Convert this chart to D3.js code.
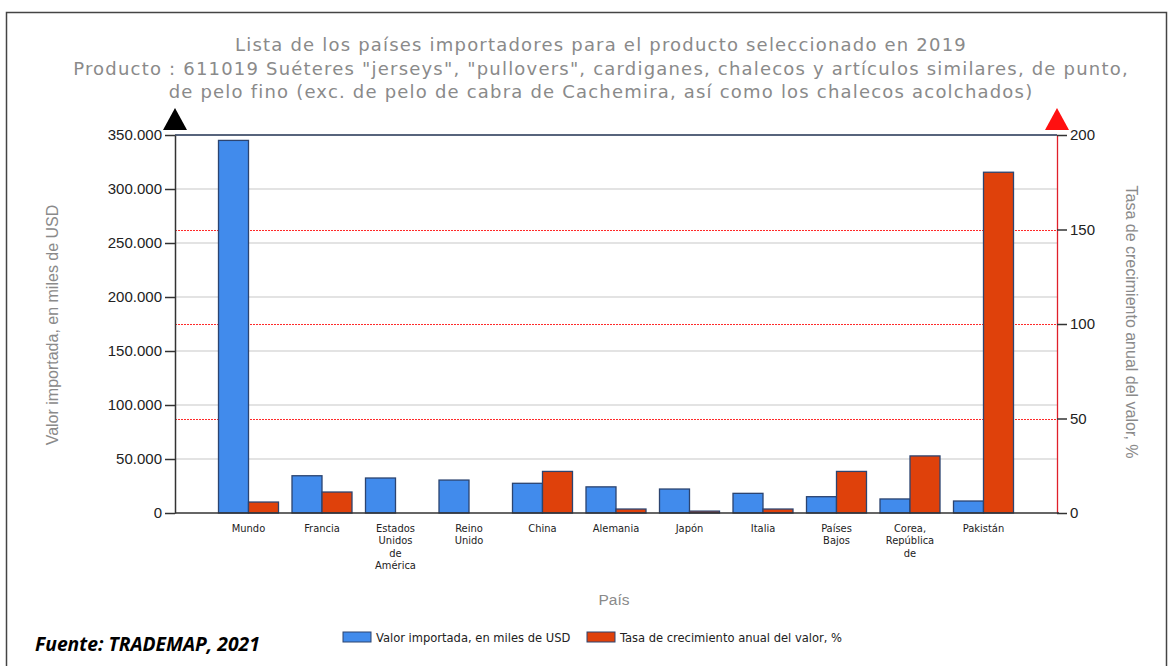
<!DOCTYPE html>
<html>
<head>
<meta charset="utf-8">
<script src="https://cdn.jsdelivr.net/npm/d3@7"></script>
<style>
  html, body { margin: 0; padding: 0; background: #fff; }
  svg { display: block; }
</style>
</head>
<body>
<svg id="chart" width="1174" height="666"></svg>
<script>
// Importing countries, 2019 — HS 611019
const countries = [
  ["Mundo"], ["Francia"], ["Estados", "Unidos", "de", "América"], ["Reino", "Unido"],
  ["China"], ["Alemania"], ["Japón"], ["Italia"], ["Países", "Bajos"],
  ["Corea,", "República", "de"], ["Pakistán"]
];
// Imported value, thousands of USD
const importValue = [345000, 34500, 32400, 30500, 27500, 24200, 22200, 18200, 15100, 13000, 11100];
// Annual growth rate of value, %
const growthRate = [5.8, 11.1, null, null, 22.0, 2.1, 1.0, 2.1, 22.0, 30.2, 180.3];
const leftTicks = [0, 50000, 100000, 150000, 200000, 250000, 300000, 350000];
const rightTicks = [0, 50, 100, 150, 200];
const rightGrid = [50, 100, 150];

const titleLines = [
  "Lista de los países importadores para el producto seleccionado en 2019",
  "Producto : 611019 Suéteres \"jerseys\", \"pullovers\", cardiganes, chalecos y artículos similares, de punto,",
  "de pelo fino (exc. de pelo de cabra de Cachemira, así como los chalecos acolchados)"
];
const legendLabels = ["Valor importada, en miles de USD", "Tasa de crecimiento anual del valor, %"];

const blue = "#418bec", red = "#df410b", barStroke = "#2c4470";
const svg = d3.select("#chart");

const plot = { left: 175, right: 1057, top: 135, bottom: 513 };

// Category slots: one empty slot on each side
const x = d3.scaleLinear().domain([0, countries.length + 1]).range([plot.left, plot.right]);
const yL = d3.scaleLinear().domain([0, 350000]).range([plot.bottom, plot.top]);
const yR = d3.scaleLinear().domain([0, 200]).range([plot.bottom, plot.top]);
const barW = 30;

// outer frame
svg.append("rect").attr("x", 6.5).attr("y", 12.5).attr("width", 1160).attr("height", 670)
  .attr("fill", "none").attr("stroke", "#444").attr("stroke-width", 1.5);

// title
svg.append("g").selectAll("text").data(titleLines).join("text")
  .attr("x", 601).attr("y", (d, i) => 51 + i * 23.5)
  .attr("text-anchor", "middle")
  .attr("font-family", "DejaVu Sans, Verdana, sans-serif")
  .attr("font-size", 18).attr("letter-spacing", 1.2).attr("fill", "#8a8a8a")
  .text(d => d);

// left-axis gridlines
svg.append("g").selectAll("line").data(leftTicks.filter(d => d > 0 && d < 350000)).join("line")
  .attr("x1", plot.left).attr("x2", plot.right)
  .attr("y1", d => yL(d)).attr("y2", d => yL(d))
  .attr("stroke", "#c8c8c8").attr("stroke-width", 1.2);

// right-axis gridlines (dotted red)
svg.append("g").selectAll("line").data(rightGrid).join("line")
  .attr("x1", plot.left).attr("x2", plot.right)
  .attr("y1", d => Math.round(yR(d)) + 0.5).attr("y2", d => Math.round(yR(d)) + 0.5)
  .style("stroke", "#ff2a2a").style("stroke-width", 1).style("stroke-dasharray", "2,1");

// top border of plot
svg.append("line").attr("x1", plot.left).attr("x2", plot.right)
  .attr("y1", plot.top).attr("y2", plot.top).attr("stroke", "#1f3150").attr("stroke-width", 1.3);

// bars
const groups = svg.append("g").selectAll("g").data(countries).join("g");
groups.append("rect")
  .attr("x", (d, i) => x(i + 1) - barW)
  .attr("y", (d, i) => yL(importValue[i]))
  .attr("width", barW)
  .attr("height", (d, i) => yL(0) - yL(importValue[i]))
  .attr("fill", blue).attr("stroke", barStroke).attr("stroke-width", 1.3);
groups.filter((d, i) => growthRate[i] != null).append("rect")
  .attr("x", (d) => x(countries.indexOf(d) + 1))
  .attr("y", (d) => yR(growthRate[countries.indexOf(d)]))
  .attr("width", barW)
  .attr("height", (d) => yR(0) - yR(growthRate[countries.indexOf(d)]))
  .attr("fill", red).attr("stroke", barStroke).attr("stroke-width", 1.3);

// left axis
const axL = d3.axisLeft(yL).tickValues(leftTicks)
  .tickFormat(d => d3.format(",")(d).replace(/,/g, "."))
  .tickSize(10).tickSizeOuter(0).tickPadding(3);
const gL = svg.append("g").attr("transform", `translate(${plot.left},0)`).call(axL);
gL.select(".domain").attr("stroke", "#333").attr("stroke-width", 1.5);
gL.selectAll(".tick line").attr("stroke", "#333").attr("stroke-width", 1.5);
gL.selectAll("text").attr("font-family", "Liberation Sans, Arial, sans-serif")
  .attr("font-size", 15).attr("fill", "#222");

// right axis
const axR = d3.axisRight(yR).tickValues(rightTicks).tickSize(10).tickSizeOuter(0).tickPadding(3);
const gR = svg.append("g").attr("transform", `translate(${plot.right},0)`).call(axR);
gR.select(".domain").attr("stroke", "#e0202a").attr("stroke-width", 1.3);
gR.selectAll(".tick line").attr("stroke", "#333").attr("stroke-width", 1.5);
gR.selectAll("text").attr("font-family", "Liberation Sans, Arial, sans-serif")
  .attr("font-size", 15).attr("fill", "#222");

// baseline
svg.append("line").attr("x1", plot.left).attr("x2", plot.right + 2)
  .attr("y1", plot.bottom).attr("y2", plot.bottom).attr("stroke", "#333").attr("stroke-width", 1.5);

// axis arrows
svg.append("path")
  .attr("d", `M${plot.left - 12},130 L${plot.left},108 L${plot.left + 12},130 Z`).attr("fill", "#000");
svg.append("path")
  .attr("d", `M${plot.right - 12},130 L${plot.right},108 L${plot.right + 12},130 Z`).attr("fill", "#ff1010");

// category labels
const lbl = svg.append("g").selectAll("text").data(countries).join("text")
  .attr("x", (d, i) => x(i + 1)).attr("y", 532)
  .attr("text-anchor", "middle")
  .attr("font-family", "DejaVu Sans Condensed, DejaVu Sans, sans-serif")
  .attr("font-size", 11).attr("fill", "#222");
lbl.selectAll("tspan").data(d => d).join("tspan")
  .attr("x", function () { return this.parentNode.getAttribute("x"); })
  .attr("dy", (d, i) => i === 0 ? 0 : 12.3)
  .text(d => d);

// axis titles
svg.append("text").attr("transform", "translate(58,325) rotate(-90)")
  .attr("text-anchor", "middle").attr("font-family", "Liberation Sans, Arial, sans-serif")
  .attr("font-size", 16).attr("fill", "#8a8a8a").text("Valor importada, en miles de USD");
svg.append("text").attr("transform", "translate(1126,322) rotate(90)")
  .attr("text-anchor", "middle").attr("font-family", "Liberation Sans, Arial, sans-serif")
  .attr("font-size", 16).attr("fill", "#8a8a8a").text("Tasa de crecimiento anual del valor, %");
svg.append("text").attr("x", 614).attr("y", 605)
  .attr("text-anchor", "middle").attr("font-family", "Liberation Sans, Arial, sans-serif")
  .attr("font-size", 15.5).attr("fill", "#8a8a8a").text("País");

// legend
const legend = [
  { label: legendLabels[0], color: blue, x: 343 },
  { label: legendLabels[1], color: red, x: 587 }
];
const lg = svg.append("g").selectAll("g").data(legend).join("g")
  .attr("transform", d => `translate(${d.x},632)`);
lg.append("rect").attr("width", 28).attr("height", 10)
  .attr("fill", d => d.color).attr("stroke", barStroke).attr("stroke-width", 1);
lg.append("text").attr("x", 33).attr("y", 10)
  .attr("font-family", "Liberation Sans Narrow, DejaVu Sans Condensed, sans-serif")
  .attr("font-size", 12.8).attr("fill", "#222").text(d => d.label);

// source note
svg.append("text").attr("x", 35).attr("y", 651)
  .attr("font-family", "Open Sans, Liberation Sans, sans-serif")
  .attr("font-style", "italic").attr("font-weight", "bold")
  .attr("font-size", 19.3).attr("fill", "#000").text("Fuente: TRADEMAP, 2021");
</script>
</body>
</html>
